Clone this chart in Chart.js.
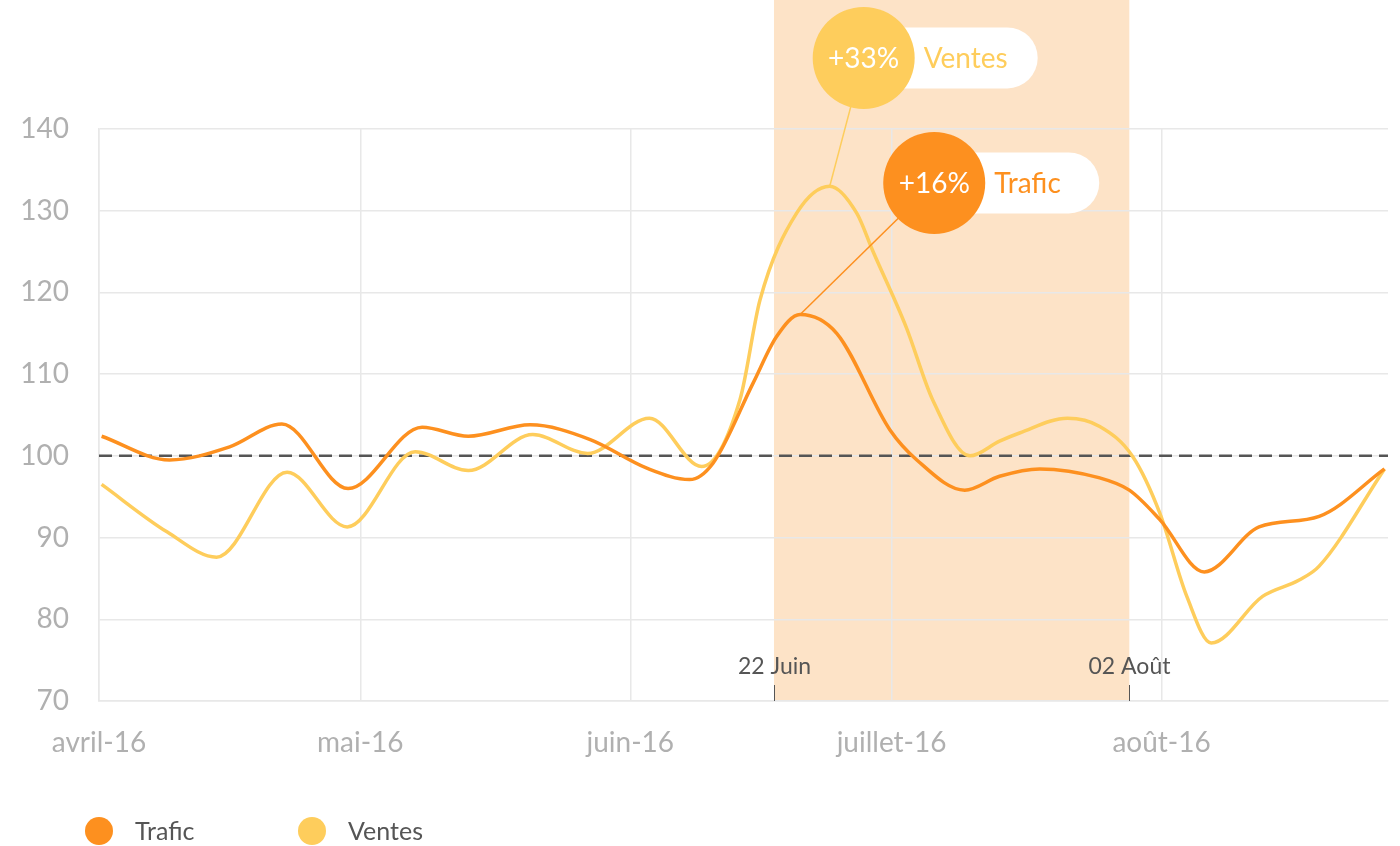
<!DOCTYPE html>
<html>
<head>
<meta charset="utf-8">
<script src="https://cdn.jsdelivr.net/npm/chart.js@4.4.1/dist/chart.umd.min.js"></script>
<style>
  body { margin: 0; background: #fff; }
  #wrap { width: 1400px; height: 846px; }
</style>
</head>
<body>
<div id="wrap"><canvas id="chart"></canvas></div>
<script>
// x = jours depuis le 1er avril 2016
var monthDays = [0, 30, 61, 91, 122];
var monthLabels = ['avril-16', 'mai-16', 'juin-16', 'juillet-16', 'août-16'];

var traficDays = [0.3, 8.1, 15.0, 21.0, 28.6, 37.1, 42.4, 49.5, 56.4, 62.9, 67.8, 70.5, 75.1, 77.8, 80.5, 84.7, 90.8, 93.9, 99.4, 103.4, 108.0, 114.9, 118.3, 121.8, 126.9, 133.2, 140.1, 147.6];
var traficValues = [102.4, 99.5, 101.1, 103.9, 96.0, 103.5, 102.4, 103.8, 102.0, 98.5, 97.1, 99.1, 108.9, 114.6, 117.3, 115.0, 103.2, 99.5, 95.8, 97.5, 98.4, 97.3, 95.8, 92.2, 85.8, 91.3, 92.6, 98.4];

var ventesDays = [0.3, 7.8, 13.5, 21.6, 28.5, 36.3, 42.4, 49.8, 56.1, 63.2, 69.2, 73.6, 75.9, 80.1, 83.9, 87.0, 88.8, 92.7, 95.7, 100.0, 103.4, 105.7, 111.2, 114.9, 118.7, 121.8, 124.9, 127.7, 133.6, 137.8, 140.1, 147.6];
var ventesValues = [96.5, 90.7, 87.6, 98.0, 91.3, 100.5, 98.2, 102.6, 100.3, 104.6, 98.7, 106.9, 119.1, 129.7, 133.0, 129.7, 125.2, 115.7, 106.9, 100.0, 101.8, 102.8, 104.6, 103.6, 99.9, 93.0, 82.8, 77.1, 82.8, 84.8, 86.5, 98.4];

var baseline = 100;
var bandStart = 77.5, bandEnd = 118.3;
var bandLabels = ['22 Juin', '02 Août'];

var orange = '#fd901f';
var yellow = '#fecd5c';
var FONT = 'Lato, "Open Sans", sans-serif';

function pts(days, vals) {
  return days.map(function (d, i) { return { x: d, y: vals[i] }; });
}

// bulles : série, texte, position (jour, valeur)
var bubbles = [
  { ds: 1, pct: '+33%', label: 'Ventes', color: yellow, x: 87.8, y: 148.7, w: 174 },
  { ds: 0, pct: '+16%', label: 'Trafic', color: orange, x: 95.9, y: 133.4, w: 165 }
];

function roundRect(ctx, x, y, w, h, r) {
  ctx.beginPath();
  ctx.moveTo(x + r, y);
  ctx.lineTo(x + w - r, y);
  ctx.arc(x + w - r, y + r, r, -Math.PI / 2, Math.PI / 2);
  ctx.lineTo(x + r, y + h);
  ctx.arc(x + r, y + r, r, Math.PI / 2, Math.PI * 1.5);
  ctx.closePath();
}

var decor = {
  id: 'decor',
  beforeDraw: function (chart) {
    var ctx = chart.ctx, xs = chart.scales.x, a = chart.chartArea;
    var x1 = xs.getPixelForValue(bandStart), x2 = xs.getPixelForValue(bandEnd);
    ctx.save();
    ctx.fillStyle = '#fde3c7';
    ctx.fillRect(x1, 0, x2 - x1, a.bottom);
    ctx.restore();
  },
  afterDatasetsDraw: function (chart) {
    var ctx = chart.ctx, xs = chart.scales.x, ys = chart.scales.y;
    bubbles.forEach(function (b) {
      var vals = chart.data.datasets[b.ds].data;
      var peak = vals.reduce(function (m, p) { return p.y > m.y ? p : m; }, vals[0]);
      var cx = xs.getPixelForValue(b.x), cy = ys.getPixelForValue(b.y);
      var px = xs.getPixelForValue(peak.x), py = ys.getPixelForValue(peak.y);
      ctx.save();
      ctx.strokeStyle = b.color;
      ctx.lineWidth = 1.5;
      ctx.beginPath();
      ctx.moveTo(cx, cy);
      ctx.lineTo(px, py);
      ctx.stroke();
      ctx.fillStyle = '#fff';
      roundRect(ctx, cx, cy - 30.5, b.w, 61, 30.5);
      ctx.fill();
      ctx.fillStyle = b.color;
      ctx.beginPath();
      ctx.arc(cx, cy, 51, 0, Math.PI * 2);
      ctx.fill();
      ctx.font = '28px ' + FONT;
      ctx.textBaseline = 'middle';
      ctx.textAlign = 'center';
      ctx.fillStyle = '#fff';
      ctx.fillText(b.pct, cx, cy + 1);
      ctx.textAlign = 'left';
      ctx.fillStyle = b.color;
      ctx.fillText(b.label, cx + 60, cy + 1);
      ctx.restore();
    });
  },
  afterDraw: function (chart) {
    var ctx = chart.ctx, xs = chart.scales.x, a = chart.chartArea;
    ctx.save();
    [bandStart, bandEnd].forEach(function (d, i) {
      var x = Math.round(xs.getPixelForValue(d)) + 0.5;
      ctx.strokeStyle = '#555';
      ctx.lineWidth = 1;
      ctx.beginPath();
      ctx.moveTo(x, a.bottom - 16);
      ctx.lineTo(x, a.bottom);
      ctx.stroke();
      ctx.font = '23px ' + FONT;
      ctx.fillStyle = '#555';
      ctx.textAlign = 'center';
      ctx.textBaseline = 'middle';
      ctx.fillText(bandLabels[i], x, a.bottom - 34);
    });
    // légende
    var items = [['Trafic', orange], ['Ventes', yellow]];
    var lx = [99, 312];
    items.forEach(function (it, i) {
      ctx.fillStyle = it[1];
      ctx.beginPath();
      ctx.arc(lx[i], 831, 14, 0, Math.PI * 2);
      ctx.fill();
      ctx.font = '25px ' + FONT;
      ctx.fillStyle = '#555';
      ctx.textAlign = 'left';
      ctx.textBaseline = 'middle';
      ctx.fillText(it[0], lx[i] + 36, 832);
    });
    ctx.restore();
  }
};

var ctx = document.getElementById('chart').getContext('2d');
var chart = new Chart(ctx, {
  type: 'line',
  data: {
    datasets: [
      {
        label: 'Trafic',
        data: pts(traficDays, traficValues),
        borderColor: orange,
        borderWidth: 3.5,
        pointRadius: 0,
        cubicInterpolationMode: 'monotone'
      },
      {
        label: 'Ventes',
        data: pts(ventesDays, ventesValues),
        borderColor: yellow,
        borderWidth: 3.5,
        pointRadius: 0,
        cubicInterpolationMode: 'monotone'
      },
      {
        label: 'base',
        data: [{ x: 0, y: baseline }, { x: 148, y: baseline }],
        borderColor: '#555',
        borderWidth: 2.5,
        borderDash: [13, 7],
        pointRadius: 0
      }
    ]
  },
  options: {
    responsive: true,
    maintainAspectRatio: false,
    animation: false,
    layout: { padding: { top: 129, right: 12, left: 0, bottom: 0 } },
    plugins: { legend: { display: false }, tooltip: { enabled: false } },
    scales: {
      x: {
        type: 'linear',
        min: 0,
        max: 148,
        afterBuildTicks: function (s) { s.ticks = monthDays.map(function (v) { return { value: v }; }); },
        afterFit: function (s) { s.height = 145; },
        ticks: {
          autoSkip: false,
          maxRotation: 0,
          padding: 25,
          color: '#b0b0b0',
          font: { family: FONT, size: 28 },
          callback: function (v) { return monthLabels[monthDays.indexOf(v)]; }
        },
        grid: { color: '#e8e8e8', lineWidth: 1.5, drawTicks: false },
        border: { color: '#e8e8e8', width: 1.5 }
      },
      y: {
        min: 70,
        max: 140,
        afterFit: function (s) { s.width = 99; },
        ticks: {
          stepSize: 10,
          padding: 30,
          color: '#b0b0b0',
          font: { family: FONT, size: 28 }
        },
        grid: { color: '#e8e8e8', lineWidth: 1.5, drawTicks: false },
        border: { color: '#e8e8e8', width: 1.5 }
      }
    }
  },
  plugins: [decor]
});
</script>
</body>
</html>
